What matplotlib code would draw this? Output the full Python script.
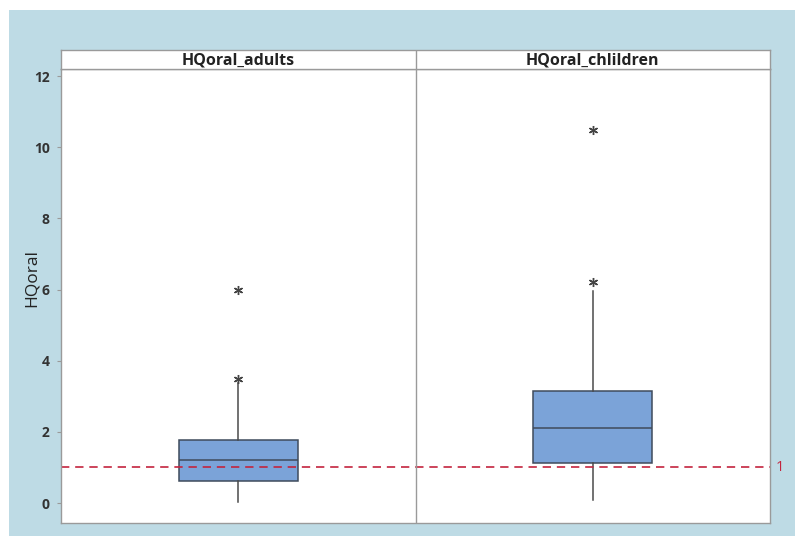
import matplotlib
matplotlib.use("Agg")
import matplotlib.pyplot as plt
from matplotlib.patches import Rectangle

plt.rcParams["font.family"] = ["Open Sans", "DejaVu Sans"]

# HQoral summary statistics per group
groups = ["HQoral_adults", "HQoral_chlildren"]
q1 = [0.62, 1.12]
median = [1.21, 2.12]
q3 = [1.77, 3.15]
whisker_lo = [0.04, 0.08]
whisker_hi = [3.37, 5.96]
outliers = [[3.5, 6.0], [6.22, 10.48]]
ref_value = 1

W, H = 795, 536
fig = plt.figure(figsize=(W / 100, H / 100), dpi=100)
fig.patch.set_facecolor("white")
fig.patches.append(Rectangle((9 / W, 0), 1 - 9 / W, 1 - 10 / H,
                             transform=fig.transFigure, facecolor="#bedbe5",
                             edgecolor="none", zorder=-10))

frame = "#9a9a9a"
left, right = 61 / W, 770 / W
ax_top, ax_bot = 1 - 69 / H, 1 - 523 / H
hdr_top = 1 - 50 / H

ax = fig.add_axes([left, ax_bot, right - left, ax_top - ax_bot])
hdr = fig.add_axes([left, ax_top, right - left, hdr_top - ax_top])

stats = []
for i, g in enumerate(groups):
    stats.append(dict(label=g, q1=q1[i], med=median[i], q3=q3[i],
                      whislo=whisker_lo[i], whishi=whisker_hi[i],
                      fliers=outliers[i]))

ax.bxp(stats, positions=[1, 2], widths=0.336, patch_artist=True,
       showcaps=False,
       boxprops=dict(facecolor="#7ba3d8", edgecolor="#3f4b5c", linewidth=1.1),
       medianprops=dict(color="#3f4b5c", linewidth=1.1),
       whiskerprops=dict(color="#4a4a4a", linewidth=1.1),
       flierprops=dict(marker=(6, 2, 0), markersize=6.5, markeredgecolor="#444444",
                       markeredgewidth=1.0))

ax.axhline(ref_value, color="#c3243e", linestyle=(0, (5, 3.5)), linewidth=1.2)
ax.text(2.515, ref_value, "1", color="#c3243e", fontsize=10.5, va="center", ha="left")
ax.axvline(1.5, color=frame, linewidth=1.0)

ax.set_xlim(0.5, 2.5)
ax.set_ylim(-0.56, 12.2)
ax.set_yticks([0, 2, 4, 6, 8, 10, 12])
ax.set_xticks([])
ax.tick_params(axis="y", length=3, color=frame, labelsize=10, pad=5)
for t in ax.get_yticklabels():
    t.set_fontweight("bold")
    t.set_color("#333333")
ax.set_ylabel("HQoral", fontsize=12.5, color="#222222")
ax.yaxis.set_label_coords(-0.03, 0.54)
for s in ax.spines.values():
    s.set_color(frame)
    s.set_linewidth(1.0)

# panel header strip
hdr.set_xlim(0.5, 2.5)
hdr.set_ylim(0, 1)
hdr.set_xticks([])
hdr.set_yticks([])
hdr.axvline(1.5, color=frame, linewidth=1.0)
for s in hdr.spines.values():
    s.set_color(frame)
    s.set_linewidth(1.0)
for i, g in enumerate(groups):
    hdr.text(i + 1, 0.45, g, ha="center", va="center", fontsize=11.5,
             fontweight="bold", color="#222222")

fig.savefig("out.png", dpi=100)
